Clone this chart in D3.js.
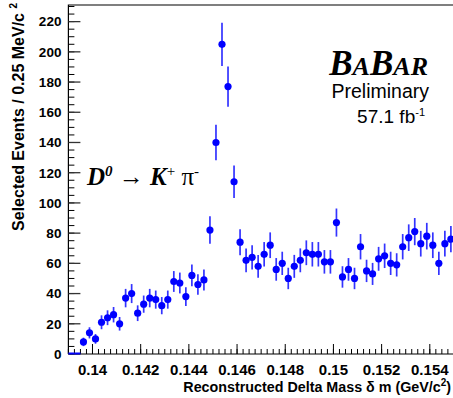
<!DOCTYPE html>
<html>
<head>
<meta charset="utf-8">
<script src="https://cdn.jsdelivr.net/npm/d3@7"></script>
<style>
  body { margin: 0; background: #fff; }
  svg { display: block; }
  text { font-family: "Liberation Sans", Arial, Helvetica, sans-serif; }
</style>
</head>
<body>
<div id="chart"></div>
<script>
// bin edges in GeV/c^2, 0.25 MeV bins
const xMin = 0.139;
const xMax = 0.155;
const binWidth = 0.00025;

// events per bin
const counts = [
  0, 0, 8, 14, 10, 21, 24, 26, 20, 37, 40, 27, 33, 37, 36, 32,
  36, 48, 47, 38, 52, 46, 49, 82, 140, 205, 177, 114, 74, 62, 64, 58,
  66, 72, 56, 60, 50, 58, 62, 67, 66, 66, 61, 61, 87, 51, 56, 50,
  71, 55, 53, 63, 65, 60, 59, 71, 77, 81, 73, 78, 72, 60, 73, 76
];
// error bar half-lengths (events)
const errors = [
  0, 0, 2.8, 3.7, 3.2, 4.6, 4.9, 5.1, 4.5, 6.1, 6.3, 5.2, 5.7, 6.1, 6.0, 5.7,
  6.0, 6.9, 6.9, 6.2, 7.2, 6.8, 7.0, 9.1, 11.8, 14.3, 13.3, 10.7, 8.6, 7.9, 8.0, 7.6,
  8.1, 8.5, 7.5, 7.7, 7.1, 7.6, 7.9, 8.2, 8.1, 8.1, 7.8, 7.8, 9.3, 7.1, 7.5, 7.1,
  8.4, 7.4, 7.3, 7.9, 8.1, 7.7, 7.7, 8.4, 8.8, 9.0, 8.5, 8.8, 8.5, 7.7, 8.5, 8.7
];

const xTicks = [0.14, 0.142, 0.144, 0.146, 0.148, 0.15, 0.152, 0.154];
const xTickLabels = ["0.14", "0.142", "0.144", "0.146", "0.148", "0.15", "0.152", "0.154"];
const yTicks = [0, 20, 40, 60, 80, 100, 120, 140, 160, 180, 200, 220];

const W = 453, H = 398;
const plot = { left: 68.4, top: 5, right: 453.9, bottom: 354 };

const svg = d3.select('#chart').append('svg')
  .attr('width', W)
  .attr('height', H);

const x = d3.scaleLinear().domain([xMin, xMax]).range([plot.left, plot.right]);
const y = d3.scaleLinear().domain([0, 231]).range([plot.bottom, plot.top]);

const data = counts.map((c, i) => ({
  lo: xMin + i * binWidth,
  mid: xMin + (i + 0.5) * binWidth,
  hi: xMin + (i + 1) * binWidth,
  n: c,
  err: errors[i]
}));

// frame
svg.append('path')
  .attr('d', `M${plot.left},${plot.bottom}V${plot.top}H${plot.right}`)
  .attr('fill', 'none')
  .attr('stroke', '#000')
  .attr('stroke-width', 1.2);

// x axis, ticks pointing into the plot
const xMinor = d3.range(0, Math.round((xMax - xMin) / binWidth) + 1).map(i => xMin + i * binWidth);
const xAxis = svg.append('g').attr('transform', `translate(0,${plot.bottom})`);
xAxis.append('line')
  .attr('x1', plot.left).attr('x2', plot.right)
  .attr('stroke', '#000').attr('stroke-width', 1.2);
xAxis.selectAll('.minor').data(xMinor).enter().append('line')
  .attr('x1', d => x(d)).attr('x2', d => x(d))
  .attr('y1', 0).attr('y2', -5)
  .attr('stroke', '#000');
xAxis.selectAll('.major').data(xTicks).enter().append('line')
  .attr('x1', d => x(d)).attr('x2', d => x(d))
  .attr('y1', 0).attr('y2', -10)
  .attr('stroke', '#000');
xAxis.selectAll('.lbl').data(xTicks).enter().append('text')
  .attr('x', d => x(d))
  .attr('y', 21)
  .attr('text-anchor', 'middle')
  .style('font-size', '15px')
  .style('font-weight', 'bold')
  .text((d, i) => xTickLabels[i]);

// y axis
const yMinor = d3.range(0, 231, 5);
const yAxis = svg.append('g').attr('transform', `translate(${plot.left},0)`);
yAxis.selectAll('.minor').data(yMinor).enter().append('line')
  .attr('x1', 0).attr('x2', 6)
  .attr('y1', d => y(d)).attr('y2', d => y(d))
  .attr('stroke', '#000');
yAxis.selectAll('.major').data(yTicks).enter().append('line')
  .attr('x1', 0).attr('x2', 12)
  .attr('y1', d => y(d)).attr('y2', d => y(d))
  .attr('stroke', '#333').attr('stroke-width', 1.3);
yAxis.selectAll('.lbl').data(yTicks).enter().append('text')
  .attr('x', -7)
  .attr('y', d => y(d))
  .attr('dy', '0.36em')
  .attr('text-anchor', 'end')
  .style('font-size', '13.5px')
  .style('font-weight', 'bold')
  .text(d => d);

// zero bins drawn as flat segments
svg.selectAll('.zero').data(data.filter(d => d.n === 0)).enter().append('line')
  .attr('x1', d => x(d.lo)).attr('x2', d => x(d.hi))
  .attr('y1', y(0) - 0.5).attr('y2', y(0) - 0.5)
  .attr('stroke', '#0000ff').attr('stroke-width', 2);

const pts = data.filter(d => d.n > 0);

// error bars
svg.selectAll('.err').data(pts).enter().append('line')
  .attr('x1', d => x(d.mid)).attr('x2', d => x(d.mid))
  .attr('y1', d => y(d.n - d.err)).attr('y2', d => y(d.n + d.err))
  .attr('stroke', '#3434ff')
  .attr('stroke-width', 1.7);

// markers
svg.selectAll('.pt').data(pts).enter().append('circle')
  .attr('cx', d => x(d.mid))
  .attr('cy', d => y(d.n))
  .attr('r', 3.6)
  .attr('fill', '#0000ff');

// axis titles
svg.append('text')
  .attr('x', 451)
  .attr('y', 392)
  .attr('text-anchor', 'end')
  .style('font-size', '14.3px')
  .style('font-weight', 'bold')
  .html('Reconstructed Delta Mass \u03b4 m (GeV/c<tspan dy="-6" font-size="10px">2</tspan><tspan dy="6">)</tspan>');

svg.append('text')
  .attr('transform', 'translate(24,3) rotate(-90)')
  .attr('text-anchor', 'end')
  .style('font-size', '16px')
  .style('font-weight', 'bold')
  .html('Selected Events / 0.25 MeV/c <tspan dy="-7" font-size="10px">2</tspan>');

// BaBar logo
const logo = svg.append('text')
  .attr('x', 428)
  .attr('y', 75)
  .attr('text-anchor', 'end')
  .style('font-family', '"Liberation Serif", "Times New Roman", serif')
  .style('font-weight', 'bold')
  .style('font-style', 'italic');
logo.append('tspan').style('font-size', '35px').text('B');
logo.append('tspan').style('font-size', '26px').text('A');
logo.append('tspan').style('font-size', '35px').text('B');
logo.append('tspan').style('font-size', '26px').text('AR');

svg.append('text')
  .attr('x', 429).attr('y', 98)
  .attr('text-anchor', 'end')
  .style('font-size', '19.5px')
  .text('Preliminary');

svg.append('text')
  .attr('x', 425).attr('y', 123)
  .attr('text-anchor', 'end')
  .style('font-size', '19px')
  .html('57.1 fb<tspan dy="-7" font-size="11px">-1</tspan>');

// decay label
const decay = svg.append('text')
  .attr('x', 87).attr('y', 185)
  .style('font-family', '"Liberation Serif", "Times New Roman", serif')
  .style('font-size', '25px')
  .style('font-weight', 'bold');
decay.append('tspan').style('font-style', 'italic').text('D');
decay.append('tspan').attr('dy', -9).style('font-size', '15px').style('font-style', 'italic').text('0');
decay.append('tspan').attr('dy', 9).style('font-weight', 'normal').text(' \u2192 ');
decay.append('tspan').style('font-style', 'italic').text('K');
decay.append('tspan').attr('dy', -9).style('font-size', '15px').style('font-weight', 'normal').text('+');
decay.append('tspan').attr('dy', 9).style('font-weight', 'normal').text(' \u03c0');
decay.append('tspan').attr('dy', -9).style('font-size', '15px').style('font-weight', 'normal').text('-');
</script>
</body>
</html>
